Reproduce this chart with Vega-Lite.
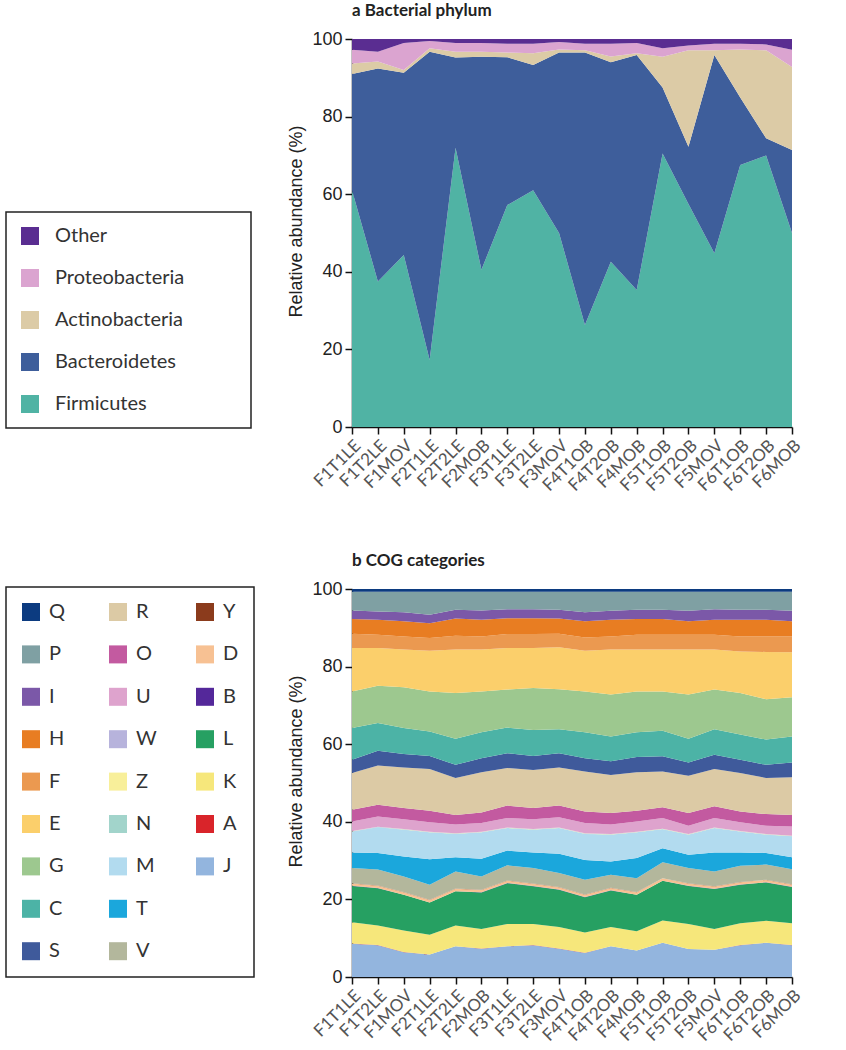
{
  "$schema": "https://vega.github.io/schema/vega-lite/v6.json",
  "padding": {"left": 5, "top": 2, "right": 0, "bottom": 0},
  "spacing": 58,
  "config": {
    "view": {"stroke": null},
    "axis": {"domainColor": "#111", "domainWidth": 1.5, "tickColor": "#111", "tickWidth": 1.5, "tickSize": 7, "grid": false},
    "axisY": {"labelFont": "Liberation Sans", "labelFontSize": 18, "labelColor": "#222", "labelPadding": 3, "titleFont": "Liberation Sans", "titleFontSize": 18, "titleFontWeight": "normal", "titleColor": "#222", "titlePadding": 6, "titleY": 182},
    "axisX": {"labelFont": "Lato", "labelFontSize": 17, "labelColor": "#555", "labelAngle": -45, "labelPadding": 3, "title": null},
    "legend": {"symbolType": "square", "symbolSize": 324, "symbolStrokeWidth": 0, "labelFont": "Lato", "labelFontSize": 20, "labelColor": "#333", "strokeColor": "#222", "fillColor": "white", "padding": 14, "rowPadding": 22},
    "title": {"font": "Lato", "fontSize": 17, "fontWeight": "bold", "color": "#222", "anchor": "start", "frame": "group"}
  },
  "resolve": {"scale": {"color": "independent"}, "legend": {"color": "independent"}},
  "vconcat": [
    {
      "title": {"text": "a  Bacterial phylum", "offset": 10},
      "width": 440,
      "height": 388,
      "data": {"values": [
        {"sample": "F1T1LE", "Firmicutes": 61, "Bacteroidetes": 30, "Actinobacteria": 2.7, "Proteobacteria": 3.5, "Other": 2.8},
        {"sample": "F1T2LE", "Firmicutes": 37.5, "Bacteroidetes": 54.9, "Actinobacteria": 1.8, "Proteobacteria": 2.5, "Other": 3.3},
        {"sample": "F1MOV", "Firmicutes": 44.3, "Bacteroidetes": 47, "Actinobacteria": 0.7, "Proteobacteria": 7, "Other": 1},
        {"sample": "F2T1LE", "Firmicutes": 17.3, "Bacteroidetes": 79.4, "Actinobacteria": 0.9, "Proteobacteria": 1.9, "Other": 0.5},
        {"sample": "F2T2LE", "Firmicutes": 72, "Bacteroidetes": 23.2, "Actinobacteria": 1.5, "Proteobacteria": 2.3, "Other": 1},
        {"sample": "F2MOB", "Firmicutes": 40.5, "Bacteroidetes": 54.9, "Actinobacteria": 1.3, "Proteobacteria": 2.3, "Other": 1},
        {"sample": "F3T1LE", "Firmicutes": 57.2, "Bacteroidetes": 38.1, "Actinobacteria": 1.2, "Proteobacteria": 2.3, "Other": 1.2},
        {"sample": "F3T2LE", "Firmicutes": 61, "Bacteroidetes": 32.3, "Actinobacteria": 3, "Proteobacteria": 2.5, "Other": 1.2},
        {"sample": "F3MOV", "Firmicutes": 50, "Bacteroidetes": 46.5, "Actinobacteria": 0.8, "Proteobacteria": 1.9, "Other": 0.8},
        {"sample": "F4T1OB", "Firmicutes": 26.3, "Bacteroidetes": 70.2, "Actinobacteria": 0.6, "Proteobacteria": 1.7, "Other": 1.2},
        {"sample": "F4T2OB", "Firmicutes": 42.6, "Bacteroidetes": 51.4, "Actinobacteria": 1.5, "Proteobacteria": 3.3, "Other": 1.2},
        {"sample": "F4MOB", "Firmicutes": 35.3, "Bacteroidetes": 60.6, "Actinobacteria": 0.4, "Proteobacteria": 2.7, "Other": 1},
        {"sample": "F5T1OB", "Firmicutes": 70.5, "Bacteroidetes": 17, "Actinobacteria": 7.9, "Proteobacteria": 2.2, "Other": 2.4},
        {"sample": "F5T2OB", "Firmicutes": 57.5, "Bacteroidetes": 14.7, "Actinobacteria": 24.9, "Proteobacteria": 1.2, "Other": 1.7},
        {"sample": "F5MOV", "Firmicutes": 44.8, "Bacteroidetes": 51.1, "Actinobacteria": 1.2, "Proteobacteria": 1.7, "Other": 1.2},
        {"sample": "F6T1OB", "Firmicutes": 67.5, "Bacteroidetes": 17.4, "Actinobacteria": 12.4, "Proteobacteria": 1.5, "Other": 1.2},
        {"sample": "F6T2OB", "Firmicutes": 70, "Bacteroidetes": 4.4, "Actinobacteria": 22.7, "Proteobacteria": 1.5, "Other": 1.4},
        {"sample": "F6MOB", "Firmicutes": 50, "Bacteroidetes": 21.4, "Actinobacteria": 21.4, "Proteobacteria": 4.4, "Other": 2.8}
      ]},
      "transform": [
        {"fold": ["Firmicutes", "Bacteroidetes", "Actinobacteria", "Proteobacteria", "Other"], "as": ["phylum", "pct"]},
        {"stack": "pct", "groupby": ["sample"], "as": ["y0", "y1"]}
      ],
      "mark": {"type": "area", "interpolate": "linear"},
      "encoding": {
        "x": {"field": "sample", "type": "ordinal", "scale": {"type": "point", "padding": 0},
              "sort": ["F1T1LE","F1T2LE","F1MOV","F2T1LE","F2T2LE","F2MOB","F3T1LE","F3T2LE","F3MOV","F4T1OB","F4T2OB","F4MOB","F5T1OB","F5T2OB","F5MOV","F6T1OB","F6T2OB","F6MOB"]},
        "y": {"field": "y1", "type": "quantitative", "scale": {"domain": [0, 100], "nice": false}, "axis": {"values": [0, 20, 40, 60, 80, 100], "title": "Relative abundance (%)"}},
        "y2": {"field": "y0"},
        "color": {"field": "phylum", "type": "nominal",
          "scale": {"domain": ["Other", "Proteobacteria", "Actinobacteria", "Bacteroidetes", "Firmicutes"],
                    "range": ["#5a2d91", "#dba4d0", "#dccba6", "#3e5e9b", "#50b3a4"]},
          "legend": {"orient": "none", "legendX": -346, "legendY": 173, "labelOffset": 15,
                     "title": ".", "titleOrient": "right", "titleFontSize": 2, "titleColor": "#ffffff", "titlePadding": 52,
                     "encode": {"legend": {"update": {"strokeWidth": {"value": 1.5}}}}}}
      }
    },
    {
      "title": {"text": "b  COG categories", "offset": 10},
      "width": 440,
      "height": 388,
      "data": {"values": [
        {"sample": "F1T1LE", "J": 8.6, "A": 0.03, "K": 5.45, "L": 9.4, "B": 0.05, "D": 0.6, "Y": 0.05, "V": 3.9, "T": 4.0, "M": 5.4, "N": 0.05, "Z": 0.05, "W": 0.05, "U": 2.45, "O": 3.0, "R": 9.5, "S": 3.4, "C": 8.2, "G": 9.4, "E": 11.2, "F": 3.7, "H": 3.8, "I": 2.2, "P": 4.8, "Q": 0.7},
        {"sample": "F1T2LE", "J": 8.2, "A": 0.03, "K": 5.05, "L": 9.6, "B": 0.05, "D": 0.6, "Y": 0.05, "V": 4.1, "T": 4.3, "M": 6.6, "N": 0.05, "Z": 0.05, "W": 0.05, "U": 2.65, "O": 3.0, "R": 10.1, "S": 3.8, "C": 7.2, "G": 9.6, "E": 9.7, "F": 3.4, "H": 3.9, "I": 2.1, "P": 5.1, "Q": 0.7},
        {"sample": "F1MOV", "J": 6.4, "A": 0.03, "K": 5.55, "L": 9.2, "B": 0.05, "D": 0.6, "Y": 0.05, "V": 4.0, "T": 5.2, "M": 6.9, "N": 0.05, "Z": 0.05, "W": 0.05, "U": 2.55, "O": 2.9, "R": 10.4, "S": 3.5, "C": 6.7, "G": 10.5, "E": 9.7, "F": 3.4, "H": 3.9, "I": 2.3, "P": 5.3, "Q": 0.7},
        {"sample": "F2T1LE", "J": 5.8, "A": 0.03, "K": 5.05, "L": 8.3, "B": 0.05, "D": 0.6, "Y": 0.05, "V": 3.9, "T": 6.6, "M": 6.9, "N": 0.05, "Z": 0.05, "W": 0.05, "U": 2.45, "O": 3.0, "R": 10.7, "S": 3.4, "C": 6.3, "G": 10.3, "E": 10.5, "F": 3.3, "H": 3.8, "I": 2.2, "P": 5.9, "Q": 0.7},
        {"sample": "F2T2LE", "J": 7.9, "A": 0.03, "K": 5.35, "L": 8.8, "B": 0.05, "D": 0.6, "Y": 0.05, "V": 4.4, "T": 3.7, "M": 6.0, "N": 0.05, "Z": 0.05, "W": 0.05, "U": 2.25, "O": 2.5, "R": 9.5, "S": 3.4, "C": 6.7, "G": 11.8, "E": 11.2, "F": 3.6, "H": 4.4, "I": 2.3, "P": 4.6, "Q": 0.7},
        {"sample": "F2MOB", "J": 7.3, "A": 0.03, "K": 5.05, "L": 9.4, "B": 0.05, "D": 0.6, "Y": 0.05, "V": 3.4, "T": 4.6, "M": 6.8, "N": 0.05, "Z": 0.05, "W": 0.05, "U": 2.25, "O": 2.7, "R": 10.4, "S": 3.6, "C": 6.7, "G": 10.5, "E": 10.8, "F": 3.4, "H": 4.3, "I": 2.4, "P": 4.8, "Q": 0.7},
        {"sample": "F3T1LE", "J": 7.9, "A": 0.03, "K": 5.75, "L": 10.5, "B": 0.05, "D": 0.6, "Y": 0.05, "V": 3.9, "T": 3.8, "M": 5.8, "N": 0.05, "Z": 0.05, "W": 0.05, "U": 2.45, "O": 3.2, "R": 9.7, "S": 3.8, "C": 6.6, "G": 9.8, "E": 10.7, "F": 3.6, "H": 4.1, "I": 2.3, "P": 4.5, "Q": 0.7},
        {"sample": "F3T2LE", "J": 8.2, "A": 0.03, "K": 5.45, "L": 9.7, "B": 0.05, "D": 0.6, "Y": 0.05, "V": 4.0, "T": 4.0, "M": 5.9, "N": 0.05, "Z": 0.05, "W": 0.05, "U": 2.55, "O": 2.9, "R": 9.8, "S": 3.6, "C": 6.7, "G": 10.8, "E": 10.3, "F": 3.6, "H": 4.1, "I": 2.3, "P": 4.5, "Q": 0.7},
        {"sample": "F3MOV", "J": 7.3, "A": 0.03, "K": 5.55, "L": 9.6, "B": 0.05, "D": 0.6, "Y": 0.05, "V": 3.6, "T": 5.0, "M": 6.6, "N": 0.05, "Z": 0.05, "W": 0.05, "U": 2.65, "O": 3.0, "R": 9.8, "S": 3.7, "C": 6.2, "G": 10.3, "E": 10.8, "F": 3.5, "H": 3.9, "I": 2.3, "P": 4.6, "Q": 0.7},
        {"sample": "F4T1OB", "J": 6.2, "A": 0.03, "K": 5.25, "L": 9.1, "B": 0.05, "D": 0.6, "Y": 0.05, "V": 3.8, "T": 5.1, "M": 6.7, "N": 0.05, "Z": 0.05, "W": 0.05, "U": 2.65, "O": 3.0, "R": 10.3, "S": 3.4, "C": 6.7, "G": 10.5, "E": 10.5, "F": 3.4, "H": 4.2, "I": 2.3, "P": 5.3, "Q": 0.7},
        {"sample": "F4T2OB", "J": 7.9, "A": 0.03, "K": 4.95, "L": 9.4, "B": 0.05, "D": 0.6, "Y": 0.05, "V": 3.4, "T": 3.4, "M": 6.9, "N": 0.05, "Z": 0.05, "W": 0.05, "U": 2.45, "O": 3.0, "R": 9.8, "S": 3.5, "C": 6.4, "G": 10.8, "E": 11.6, "F": 3.4, "H": 4.3, "I": 2.3, "P": 4.9, "Q": 0.7},
        {"sample": "F4MOB", "J": 6.8, "A": 0.03, "K": 4.95, "L": 9.4, "B": 0.05, "D": 0.6, "Y": 0.05, "V": 3.6, "T": 5.2, "M": 6.6, "N": 0.05, "Z": 0.05, "W": 0.05, "U": 2.65, "O": 2.8, "R": 9.9, "S": 3.9, "C": 6.4, "G": 10.5, "E": 10.8, "F": 3.8, "H": 4.1, "I": 2.4, "P": 4.6, "Q": 0.7},
        {"sample": "F5T1OB", "J": 8.8, "A": 0.03, "K": 5.75, "L": 10.2, "B": 0.05, "D": 0.6, "Y": 0.05, "V": 4.1, "T": 3.6, "M": 4.9, "N": 0.05, "Z": 0.05, "W": 0.05, "U": 2.75, "O": 2.8, "R": 9.2, "S": 3.9, "C": 6.6, "G": 10.1, "E": 10.8, "F": 3.8, "H": 4.1, "I": 2.4, "P": 4.6, "Q": 0.7},
        {"sample": "F5T2OB", "J": 7.2, "A": 0.03, "K": 6.45, "L": 9.8, "B": 0.05, "D": 0.6, "Y": 0.05, "V": 3.9, "T": 3.4, "M": 5.2, "N": 0.05, "Z": 0.05, "W": 0.05, "U": 2.15, "O": 3.3, "R": 9.6, "S": 3.4, "C": 6.1, "G": 11.4, "E": 11.6, "F": 3.8, "H": 3.5, "I": 2.7, "P": 4.9, "Q": 0.7},
        {"sample": "F5MOV", "J": 7.0, "A": 0.03, "K": 5.35, "L": 10.3, "B": 0.05, "D": 0.6, "Y": 0.05, "V": 3.8, "T": 4.9, "M": 6.3, "N": 0.05, "Z": 0.05, "W": 0.05, "U": 2.45, "O": 3.0, "R": 9.6, "S": 3.7, "C": 6.6, "G": 10.2, "E": 10.3, "F": 3.8, "H": 3.9, "I": 2.7, "P": 4.5, "Q": 0.7},
        {"sample": "F6T1OB", "J": 8.2, "A": 0.03, "K": 5.65, "L": 9.9, "B": 0.05, "D": 0.6, "Y": 0.05, "V": 4.2, "T": 3.4, "M": 5.4, "N": 0.05, "Z": 0.05, "W": 0.05, "U": 2.25, "O": 2.8, "R": 9.9, "S": 3.4, "C": 6.5, "G": 10.7, "E": 10.7, "F": 3.9, "H": 4.3, "I": 2.6, "P": 4.6, "Q": 0.7},
        {"sample": "F6T2OB", "J": 8.8, "A": 0.03, "K": 5.65, "L": 9.9, "B": 0.05, "D": 0.6, "Y": 0.05, "V": 3.9, "T": 3.0, "M": 4.7, "N": 0.05, "Z": 0.05, "W": 0.05, "U": 2.15, "O": 3.0, "R": 9.3, "S": 3.4, "C": 6.5, "G": 10.4, "E": 12.2, "F": 4.0, "H": 4.3, "I": 2.6, "P": 4.6, "Q": 0.7},
        {"sample": "F6MOB", "J": 8.2, "A": 0.03, "K": 5.65, "L": 9.3, "B": 0.05, "D": 0.6, "Y": 0.05, "V": 3.9, "T": 3.1, "M": 5.4, "N": 0.05, "Z": 0.05, "W": 0.05, "U": 2.35, "O": 3.0, "R": 9.7, "S": 3.8, "C": 6.7, "G": 10.1, "E": 11.6, "F": 4.1, "H": 3.9, "I": 2.7, "P": 4.9, "Q": 0.7}
      ]},
      "transform": [
        {"fold": ["J", "A", "K", "L", "B", "D", "Y", "V", "T", "M", "N", "Z", "W", "U", "O", "R", "S", "C", "G", "E", "F", "H", "I", "P", "Q"], "as": ["cog", "pct"]},
        {"stack": "pct", "groupby": ["sample"], "as": ["y0", "y1"]}
      ],
      "mark": {"type": "area", "interpolate": "linear"},
      "encoding": {
        "x": {"field": "sample", "type": "ordinal", "scale": {"type": "point", "padding": 0},
              "sort": ["F1T1LE","F1T2LE","F1MOV","F2T1LE","F2T2LE","F2MOB","F3T1LE","F3T2LE","F3MOV","F4T1OB","F4T2OB","F4MOB","F5T1OB","F5T2OB","F5MOV","F6T1OB","F6T2OB","F6MOB"]},
        "y": {"field": "y1", "type": "quantitative", "scale": {"domain": [0, 100], "nice": false}, "axis": {"values": [0, 20, 40, 60, 80, 100], "title": "Relative abundance (%)"}},
        "y2": {"field": "y0"},
        "color": {"field": "cog", "type": "nominal",
          "scale": {"domain": ["Q", "P", "I", "H", "F", "E", "G", "C", "S", "R", "O", "U", "W", "Z", "N", "M", "T", "V", "Y", "D", "B", "L", "K", "A", "J", " ", "  "],
                    "range": ["#0c3b80", "#7fa0a3", "#7b58a8", "#e87d22", "#eb9950", "#fbcf6b", "#9dc88f", "#4cb3a6", "#3f5a9b", "#dccaa5", "#c35aa0", "#dea3cd", "#b7b3dc", "#f8ef9a", "#a2d4cb", "#b2dbef", "#1ba7dc", "#b3b79c", "#8b3b1c", "#f7c193", "#54289a", "#26a062", "#f6e77b", "#d9242a", "#93b5de", "#ffffff", "#ffffff"]},
          "legend": {"orient": "none", "legendX": -346, "legendY": -2, "columns": 3, "gridAlign": "all", "columnPadding": 38, "labelOffset": 8, "title": null, "padding": 15, "rowPadding": 22.4,
                     "encode": {"legend": {"update": {"strokeWidth": {"value": 1.5}}}}}}
      }
    }
  ]
}
